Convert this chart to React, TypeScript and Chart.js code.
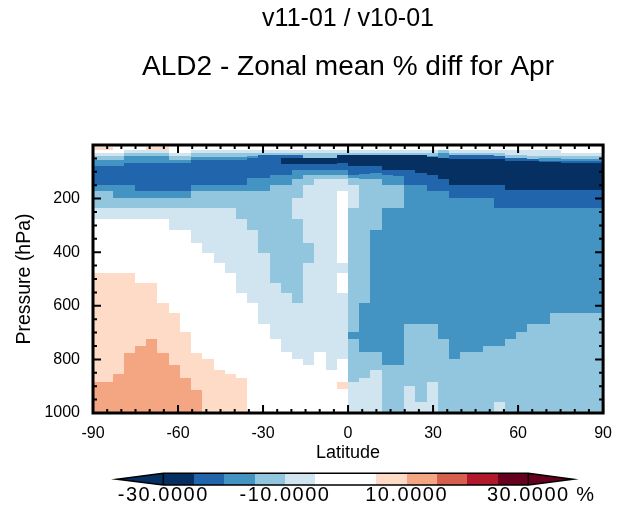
import React, { useEffect, useRef } from "react";
import { Chart, registerables } from "chart.js";

Chart.register(...registerables);

// ---------------- data ----------------
const titleLines = ["v11-01 / v10-01", "ALD2 - Zonal mean % diff for Apr"];
const xAxisTitle = "Latitude";
const yAxisTitle = "Pressure (hPa)";

// grid-box centre latitudes (46 bands)
const latitudes = [
  -89.0, -85.04, -81.09, -77.13, -73.18, -69.22, -65.27, -61.31, -57.36, -53.4,
  -49.44, -45.49, -41.53, -37.58, -33.62, -29.67, -25.71, -21.76, -17.8, -13.84,
  -9.89, -5.93, -1.98, 1.98, 5.93, 9.89, 13.84, 17.8, 21.76, 25.71,
  29.67, 33.62, 37.58, 41.53, 45.49, 49.44, 53.4, 57.36, 61.31, 65.27,
  69.22, 73.18, 77.13, 81.09, 85.04, 89.0,
];

const latitudeTicks = [-90, -60, -30, 0, 30, 60, 90];
const pressureTicks = [200, 400, 600, 800, 1000];

// colour classes (% difference)
const binEdges = [-30, -25, -20, -15, -10, -5, 0, 5, 10, 15, 20, 25, 30];
const binColors = [
  "#053061", "#2166ac", "#4393c3", "#92c5de", "#d1e5f0", "#ffffff",
  "#ffffff", "#fddbc7", "#f4a582", "#d6604d", "#b2182b", "#67001f",
];
const underColor = "#053061";
const overColor = "#67001f";
const colorbarLabels = [-30, -10, 10, 30];
const colorbarUnit = "%";

// zonal-mean % difference, one profile per latitude band,
// each entry = [bottom pressure of layer (hPa), % diff], listed top -> surface
const profiles: [number, number][][] = [
  [[7.5,0],[20,7.5],[30,0],[41,-7.5],[56,-12.5],[78,-17.5],[148,-22.5],[172,-17.5],[235,-12.5],[276,-7.5],[476,0],[883,7.5],[1000,12.5]],
  [[7.5,0],[20,7.5],[30,0],[41,-7.5],[56,-12.5],[78,-17.5],[148,-22.5],[172,-17.5],[235,-12.5],[276,-7.5],[476,0],[883,7.5],[1000,12.5]],
  [[30,0],[41,-7.5],[56,-12.5],[78,-17.5],[148,-22.5],[198,-17.5],[235,-12.5],[276,-7.5],[476,0],[856,7.5],[1000,12.5]],
  [[20,0],[30,-7.5],[41,-12.5],[67,-17.5],[148,-22.5],[198,-17.5],[235,-12.5],[276,-7.5],[476,0],[775,7.5],[1000,12.5]],
  [[20,0],[30,-7.5],[41,-12.5],[67,-17.5],[170,-22.5],[198,-17.5],[235,-12.5],[276,-7.5],[516,0],[750,7.5],[1000,12.5]],
  [[7.5,0],[20,7.5],[30,-7.5],[41,-12.5],[67,-17.5],[170,-22.5],[198,-17.5],[235,-12.5],[276,-7.5],[516,0],[725,7.5],[1000,12.5]],
  [[7.5,0],[20,7.5],[30,-7.5],[41,-12.5],[67,-17.5],[170,-22.5],[198,-17.5],[235,-12.5],[276,-7.5],[591,0],[775,7.5],[1000,12.5]],
  [[30,0],[41,-7.5],[56,-12.5],[67,-17.5],[170,-22.5],[198,-17.5],[235,-12.5],[317,-7.5],[628,0],[821,7.5],[1000,12.5]],
  [[30,0],[41,-7.5],[56,-12.5],[67,-17.5],[170,-22.5],[198,-17.5],[235,-12.5],[317,-7.5],[699,0],[868,7.5],[1000,12.5]],
  [[20,0],[30,-7.5],[45,-12.5],[56,-17.5],[148,-22.5],[170,-17.5],[235,-12.5],[365,-7.5],[775,0],[914,7.5],[1000,12.5]],
  [[20,0],[30,-7.5],[45,-12.5],[56,-17.5],[148,-22.5],[170,-17.5],[235,-12.5],[402,-7.5],[800,0],[1000,7.5]],
  [[20,0],[30,-7.5],[45,-12.5],[56,-17.5],[148,-22.5],[170,-17.5],[235,-12.5],[439,-7.5],[840,0],[1000,7.5]],
  [[20,0],[30,-7.5],[45,-12.5],[56,-17.5],[148,-22.5],[170,-17.5],[235,-12.5],[476,-7.5],[856,0],[1000,7.5]],
  [[20,0],[30,-7.5],[45,-12.5],[56,-17.5],[148,-22.5],[170,-17.5],[276,-12.5],[551,-7.5],[868,0],[1000,7.5]],
  [[20,0],[30,-7.5],[41,-12.5],[48,-17.5],[123,-22.5],[170,-17.5],[317,-12.5],[591,-7.5],[1000,0]],
  [[20,0],[30,-7.5],[37,-12.5],[123,-22.5],[173,-17.5],[402,-12.5],[668,-7.5],[1000,0]],
  [[20,0],[30,-7.5],[37,-12.5],[111,-22.5],[148,-17.5],[516,-12.5],[724,-7.5],[1000,0]],
  [[20,0],[30,-7.5],[37,-12.5],[48,-22.5],[70,-27.5],[111,-22.5],[148,-17.5],[551,-12.5],[774,-7.5],[1000,0]],
  [[20,0],[30,-7.5],[37,-12.5],[48,-22.5],[70,-27.5],[92,-22.5],[126,-17.5],[198,-12.5],[276,-7.5],[591,-12.5],[800,-7.5],[1000,0]],
  [[20,0],[30,-7.5],[48,-12.5],[70,-27.5],[92,-22.5],[111,-17.5],[148,-12.5],[365,-7.5],[439,-12.5],[821,-7.5],[1000,0]],
  [[20,0],[30,-7.5],[48,-12.5],[70,-27.5],[93,-22.5],[111,-17.5],[126,-12.5],[774,-7.5],[1000,0]],
  [[20,0],[30,-7.5],[48,-12.5],[70,-27.5],[93,-22.5],[111,-17.5],[126,-12.5],[840,-7.5],[1000,0]],
  [[20,0],[30,-7.5],[37,-12.5],[67,-27.5],[93,-22.5],[111,-17.5],[126,-12.5],[173,-7.5],[439,0],[476,-7.5],[551,0],[800,-7.5],[883,0],[912,7.5],[1000,0]],
  [[20,0],[30,-7.5],[37,-12.5],[78,-27.5],[111,-22.5],[123,-17.5],[148,-12.5],[235,-7.5],[699,-12.5],[724,-17.5],[883,-12.5],[1000,-7.5]],
  [[20,0],[30,-7.5],[37,-12.5],[78,-27.5],[107,-22.5],[126,-17.5],[591,-12.5],[774,-17.5],[870,-12.5],[1000,-7.5]],
  [[20,0],[30,-7.5],[37,-12.5],[78,-27.5],[104,-22.5],[126,-17.5],[316,-12.5],[774,-17.5],[840,-12.5],[1000,-7.5]],
  [[20,0],[30,-7.5],[37,-12.5],[92,-27.5],[111,-22.5],[148,-17.5],[235,-12.5],[821,-17.5],[1000,-12.5]],
  [[20,0],[30,-7.5],[37,-12.5],[92,-27.5],[116,-22.5],[148,-17.5],[235,-12.5],[821,-17.5],[1000,-12.5]],
  [[20,0],[30,-7.5],[37,-12.5],[92,-27.5],[148,-22.5],[668,-17.5],[899,-12.5],[1000,-7.5]],
  [[20,0],[30,-7.5],[37,-12.5],[104,-27.5],[148,-22.5],[668,-17.5],[960,-12.5],[1000,-7.5]],
  [[20,0],[30,-7.5],[41,-12.5],[45,-17.5],[111,-27.5],[173,-22.5],[668,-17.5],[883,-12.5],[1000,-7.5]],
  [[20,0],[30,-12.5],[48,-17.5],[126,-27.5],[173,-22.5],[724,-17.5],[1000,-12.5]],
  [[20,0],[30,-7.5],[37,-12.5],[51,-22.5],[148,-27.5],[198,-22.5],[800,-17.5],[1000,-12.5]],
  [[20,0],[30,-7.5],[37,-12.5],[51,-22.5],[148,-27.5],[198,-22.5],[774,-17.5],[1000,-12.5]],
  [[20,0],[30,-7.5],[37,-12.5],[51,-22.5],[148,-27.5],[198,-22.5],[774,-17.5],[1000,-12.5]],
  [[20,0],[30,-7.5],[37,-12.5],[51,-22.5],[148,-27.5],[198,-22.5],[750,-17.5],[1000,-12.5]],
  [[20,0],[30,-7.5],[41,-12.5],[51,-22.5],[148,-27.5],[235,-22.5],[750,-17.5],[960,-12.5],[1000,-7.5]],
  [[20,0],[37,-7.5],[48,-12.5],[61,-22.5],[167,-27.5],[235,-22.5],[724,-17.5],[1000,-12.5]],
  [[20,0],[37,-7.5],[48,-12.5],[61,-22.5],[167,-27.5],[235,-22.5],[699,-17.5],[1000,-12.5]],
  [[20,0],[41,-7.5],[52,-12.5],[61,-22.5],[167,-27.5],[235,-22.5],[668,-17.5],[1000,-12.5]],
  [[20,0],[41,-7.5],[50,-12.5],[58,-17.5],[64,-22.5],[167,-27.5],[235,-22.5],[668,-17.5],[1000,-12.5]],
  [[20,0],[41,-7.5],[50,-12.5],[58,-17.5],[64,-22.5],[167,-27.5],[235,-22.5],[628,-17.5],[1000,-12.5]],
  [[30,0],[42,-7.5],[52,-12.5],[60,-17.5],[66,-22.5],[167,-27.5],[235,-22.5],[628,-17.5],[1000,-12.5]],
  [[30,0],[42,-7.5],[52,-12.5],[60,-17.5],[66,-22.5],[167,-27.5],[235,-22.5],[628,-17.5],[1000,-12.5]],
  [[30,0],[42,-7.5],[52,-12.5],[60,-17.5],[66,-22.5],[167,-27.5],[235,-22.5],[628,-17.5],[1000,-12.5]],
  [[30,0],[42,-7.5],[52,-12.5],[60,-17.5],[66,-22.5],[167,-27.5],[235,-22.5],[628,-17.5],[1000,-12.5]],
];

// ---------------- helpers ----------------
const FONT = "'Liberation Sans', Arial, Helvetica, sans-serif";

function colorFor(v: number): string {
  if (v < binEdges[0]) return underColor;
  for (let i = 0; i < binColors.length; i++) {
    if (v < binEdges[i + 1]) return binColors[i];
  }
  return overColor;
}

const columnEdges: number[] = [
  -90,
  ...latitudes.slice(1).map((lat, i) => (latitudes[i] + lat) / 2),
  90,
];

const heatmapPlugin = {
  id: "zonalHeatmap",
  beforeDatasetsDraw(chart: any) {
    const { ctx, chartArea, scales } = chart;
    const xs = scales.x;
    const ys = scales.y;
    ctx.save();
    ctx.beginPath();
    ctx.rect(chartArea.left, chartArea.top, chartArea.right - chartArea.left, chartArea.bottom - chartArea.top);
    ctx.clip();
    profiles.forEach((runs, c) => {
      const x0 = Math.round(xs.getPixelForValue(columnEdges[c]));
      const x1 = Math.round(xs.getPixelForValue(columnEdges[c + 1]));
      let pTop = 0;
      runs.forEach(([pBottom, v]) => {
        const y0 = Math.round(ys.getPixelForValue(pTop));
        const y1 = Math.round(ys.getPixelForValue(pBottom));
        ctx.fillStyle = colorFor(v);
        ctx.fillRect(x0, y0, x1 - x0, y1 - y0);
        pTop = pBottom;
      });
    });
    ctx.restore();
  },
};

const framePlugin = {
  id: "frameAndColorbar",
  afterDraw(chart: any) {
    const { ctx, chartArea, scales } = chart;
    const xs = scales.x;
    const ys = scales.y;
    const { left, right, top, bottom } = chartArea;
    ctx.save();
    ctx.strokeStyle = "#000";
    // inward tick marks on all four sides
    ctx.lineWidth = 2;
    ctx.beginPath();
    for (let lat = -90; lat <= 90; lat += 5) {
      const px = xs.getPixelForValue(lat);
      const len = latitudeTicks.includes(lat) ? 8 : 4;
      ctx.moveTo(px, bottom);
      ctx.lineTo(px, bottom - len);
      ctx.moveTo(px, top);
      ctx.lineTo(px, top + len);
    }
    for (let p = 0; p <= 1000; p += 50) {
      const py = ys.getPixelForValue(p);
      const len = p % 200 === 0 ? 8 : 4;
      ctx.moveTo(left, py);
      ctx.lineTo(left + len, py);
      ctx.moveTo(right, py);
      ctx.lineTo(right - len, py);
    }
    ctx.stroke();
    // frame
    ctx.lineWidth = 3;
    ctx.strokeRect(left, top, right - left, bottom - top);

    // colour bar
    const cbL = 155.3;
    const cbR = 520.3;
    const cbT = 465.3;
    const cbB = 477;
    const tipL = 109;
    const tipR = 565;
    const cbMid = (cbT + cbB) / 2;
    const lo = binEdges[0];
    const hi = binEdges[binEdges.length - 1];
    const vx = (v: number) => cbL + ((v - lo) / (hi - lo)) * (cbR - cbL);

    ctx.fillStyle = underColor;
    ctx.beginPath();
    ctx.moveTo(cbL, cbT);
    ctx.lineTo(tipL, cbMid);
    ctx.lineTo(cbL, cbB);
    ctx.closePath();
    ctx.fill();
    ctx.fillStyle = overColor;
    ctx.beginPath();
    ctx.moveTo(cbR, cbT);
    ctx.lineTo(tipR, cbMid);
    ctx.lineTo(cbR, cbB);
    ctx.closePath();
    ctx.fill();
    for (let i = 0; i < binColors.length; i++) {
      const a = Math.round(vx(binEdges[i]));
      const b = Math.round(vx(binEdges[i + 1]));
      ctx.fillStyle = binColors[i];
      ctx.fillRect(a, cbT, b - a, cbB - cbT);
    }
    ctx.lineWidth = 1.5;
    ctx.strokeStyle = "#000";
    ctx.beginPath();
    ctx.moveTo(tipL, cbMid);
    ctx.lineTo(cbL, cbT);
    ctx.lineTo(cbR, cbT);
    ctx.lineTo(tipR, cbMid);
    ctx.lineTo(cbR, cbB);
    ctx.lineTo(cbL, cbB);
    ctx.closePath();
    ctx.moveTo(cbL, cbT);
    ctx.lineTo(cbL, cbB);
    ctx.moveTo(cbR, cbT);
    ctx.lineTo(cbR, cbB);
    ctx.stroke();

    ctx.fillStyle = "#000";
    ctx.font = `20px ${FONT}`;
    (ctx as any).letterSpacing = "1.5px";
    ctx.textAlign = "center";
    ctx.textBaseline = "middle";
    colorbarLabels.forEach((v) => {
      ctx.fillText(v.toFixed(4), vx(v), 487);
    });
    ctx.fillText(colorbarUnit, 578, 487);
    (ctx as any).letterSpacing = "0px";
    ctx.restore();
  },
};

export default function App() {
  const canvasRef = useRef<HTMLCanvasElement | null>(null);

  useEffect(() => {
    const canvas = canvasRef.current;
    if (!canvas) return;
    const tickFont = { family: FONT, size: 16 };
    const chart = new Chart(canvas, {
      type: "scatter",
      data: { datasets: [{ data: [], showLine: false }] },
      options: {
        animation: false,
        responsive: false,
        maintainAspectRatio: false,
        events: [],
        layout: { padding: { left: 0, right: 18, top: 0, bottom: 0 } },
        plugins: {
          legend: { display: false },
          tooltip: { enabled: false },
          title: {
            display: true,
            fullSize: false,
            text: titleLines[0],
            color: "#000",
            font: { family: FONT, size: 25, weight: "normal", lineHeight: 0.88 },
            padding: { top: 0, bottom: 23 },
          },
          subtitle: {
            display: true,
            fullSize: false,
            text: titleLines[1],
            color: "#000",
            font: { family: FONT, size: 28, weight: "normal", lineHeight: 1 },
            padding: { top: 0, bottom: 64 },
          },
        },
        scales: {
          x: {
            type: "linear",
            min: -90,
            max: 90,
            afterBuildTicks: (s: any) => {
              s.ticks = latitudeTicks.map((v) => ({ value: v }));
            },
            afterFit: (s: any) => {
              s.height = 93;
            },
            grid: { display: false, drawTicks: false },
            border: { display: false },
            ticks: {
              color: "#000",
              font: tickFont,
              padding: 11,
              maxRotation: 0,
              autoSkip: false,
              callback: (v: any) => String(v),
            },
            title: {
              display: true,
              text: xAxisTitle,
              color: "#000",
              font: { family: FONT, size: 18, lineHeight: 1.2 },
              padding: { top: 0, bottom: 42 },
            },
          },
          y: {
            type: "linear",
            reverse: true,
            min: 0,
            max: 1000,
            afterBuildTicks: (s: any) => {
              s.ticks = pressureTicks.map((v) => ({ value: v }));
            },
            afterFit: (s: any) => {
              s.width = 85;
            },
            grid: { display: false, drawTicks: false },
            border: { display: false },
            ticks: {
              color: "#000",
              font: tickFont,
              padding: 13,
              autoSkip: false,
              callback: (v: any) => String(v),
            },
            title: {
              display: true,
              text: yAxisTitle,
              color: "#000",
              font: { family: FONT, size: 19.5, lineHeight: 1.2 },
              padding: { top: 5, bottom: 0 },
            },
          },
        },
      },
      plugins: [heatmapPlugin, framePlugin],
    } as any);
    return () => chart.destroy();
  }, []);

  return (
    <div style={{ width: 615, height: 498 }}>
      <canvas ref={canvasRef} width={615} height={498} />
    </div>
  );
}
